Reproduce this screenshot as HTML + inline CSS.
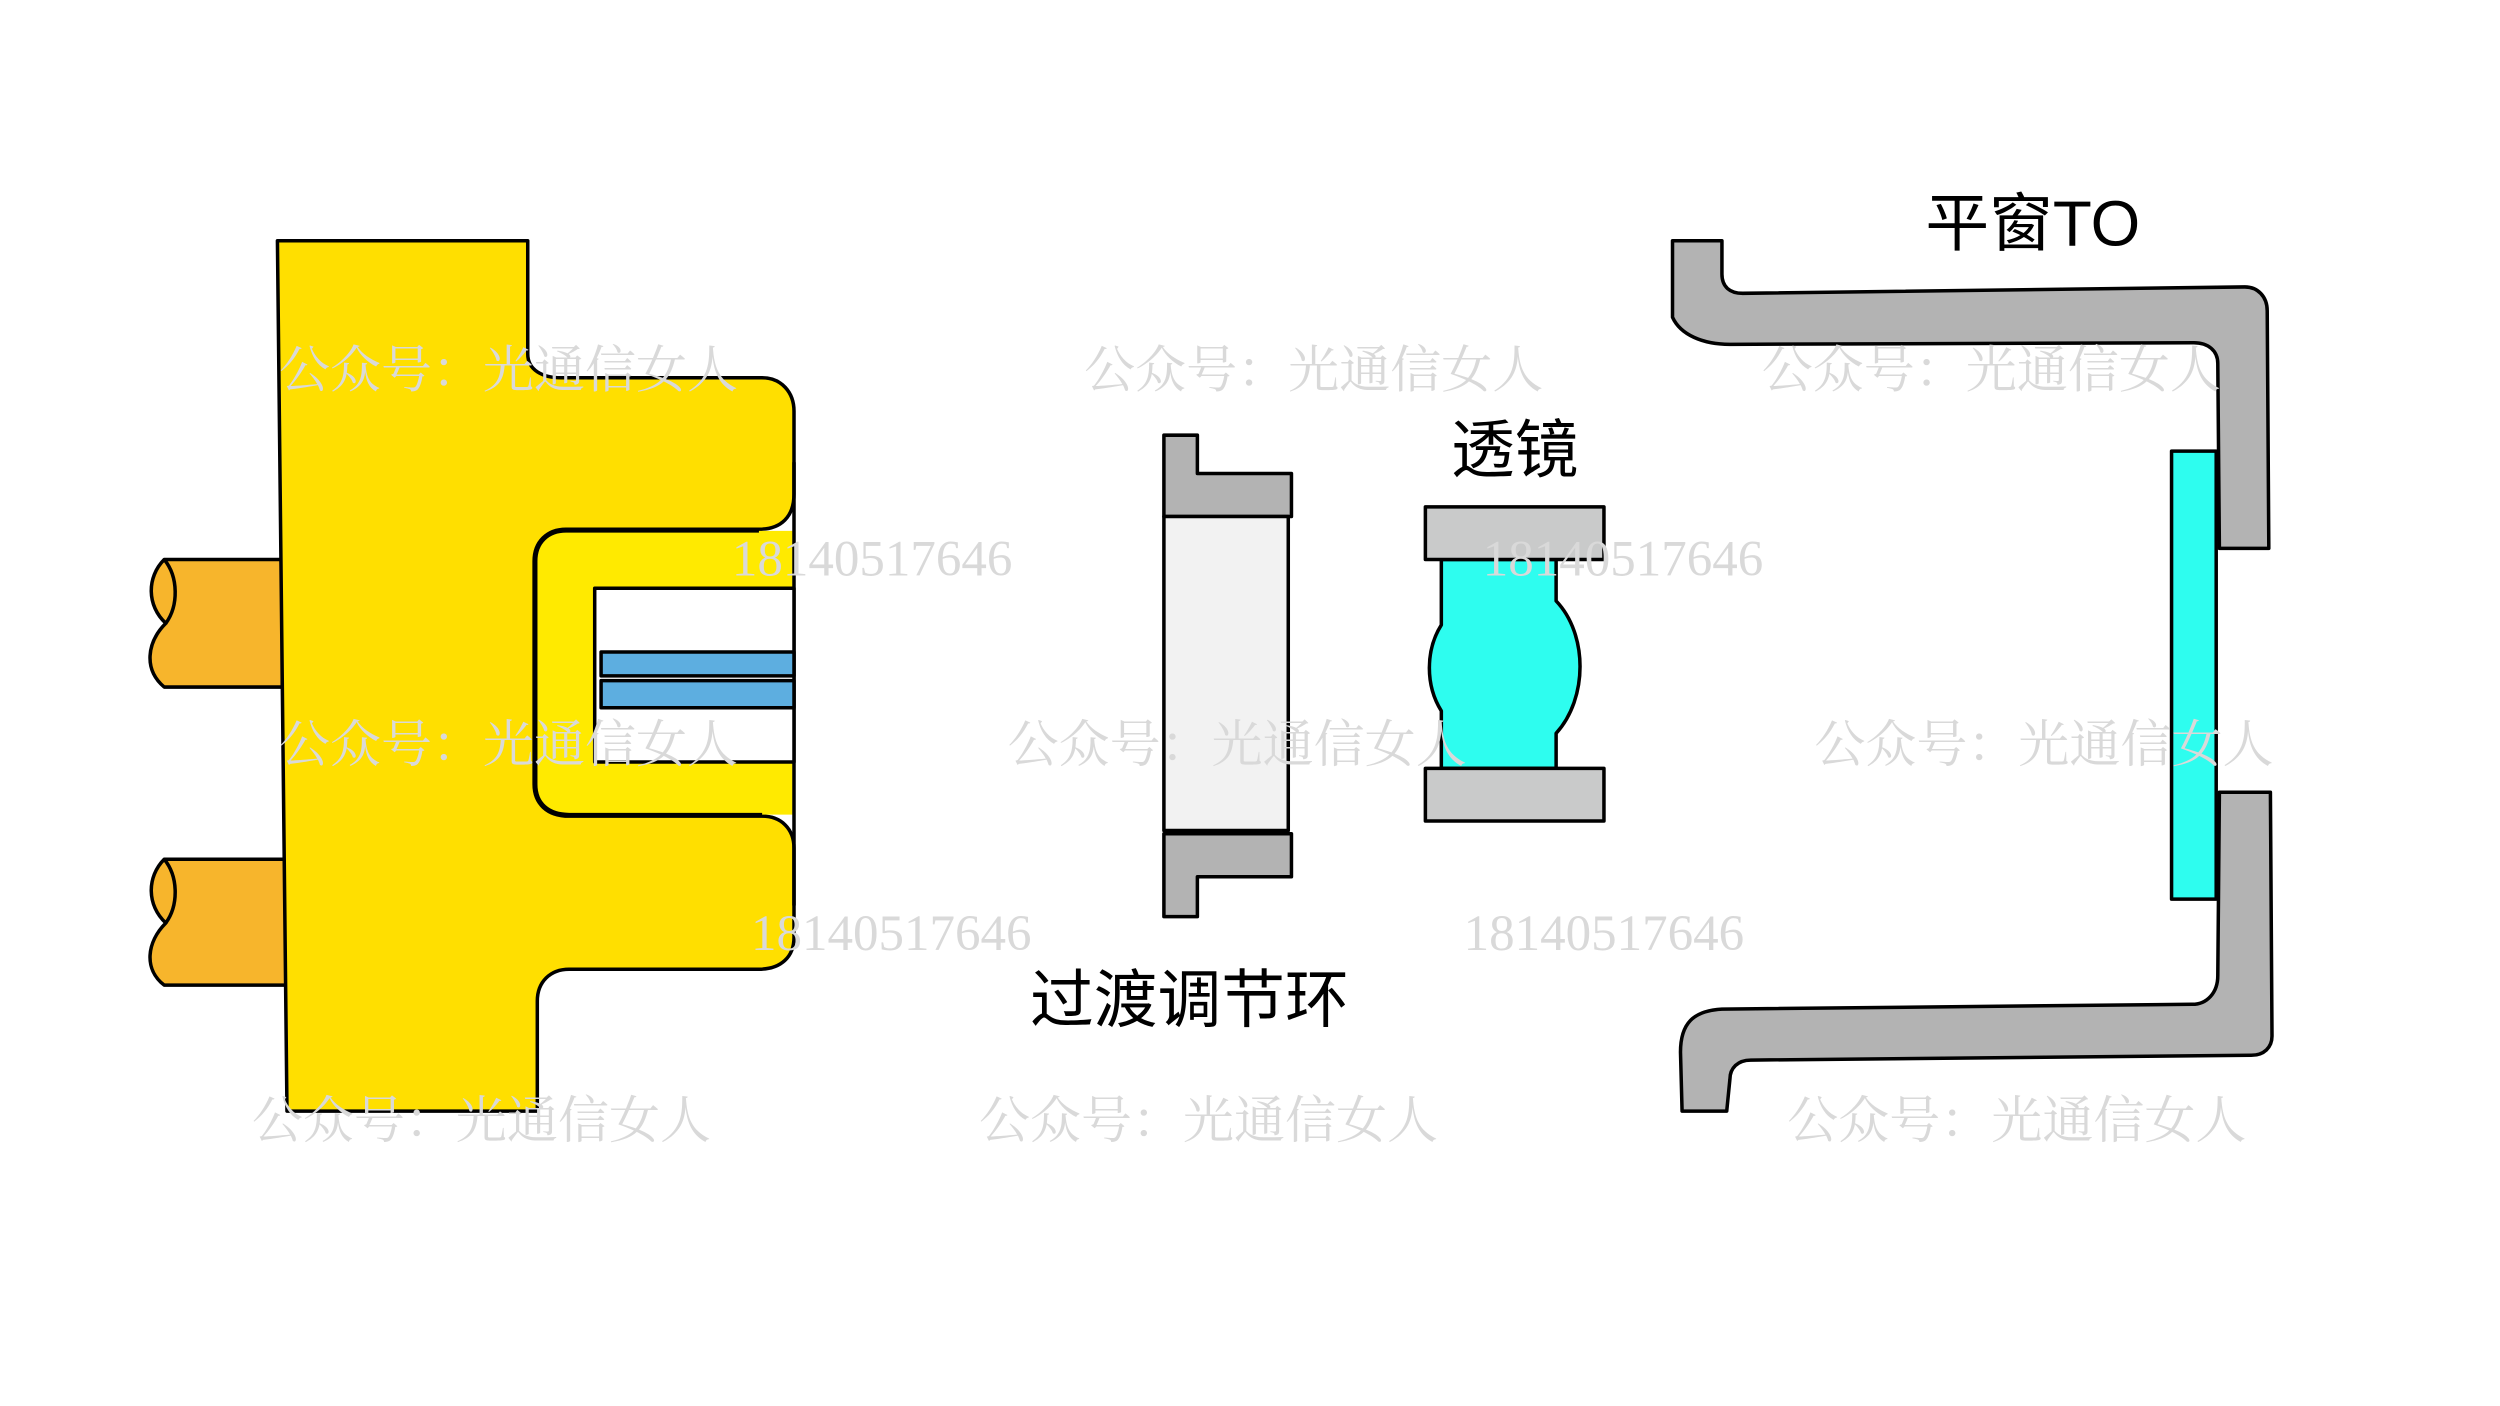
<!DOCTYPE html>
<html><head><meta charset="utf-8"><style>
html,body{margin:0;padding:0;background:#fff;}
svg{display:block;}
.wm{font-family:"Liberation Serif","Noto Serif CJK SC",serif;fill:#d9d9d9;font-size:32px;}
.lb{font-family:"Liberation Sans","Noto Sans CJK SC",sans-serif;fill:#000;font-size:40px;}
</style></head><body>
<svg width="2500" height="1406" viewBox="0 0 1568 882" preserveAspectRatio="none" xmlns="http://www.w3.org/2000/svg">
<g stroke="#000" stroke-width="2.2" stroke-linejoin="round">
<path d="M177,351 L103,351 C92,362 92,380 104,391 C92,403 90,420 103,431 L177,431 Z" fill="#F7B52C"/>
<path d="M103,351 C112,362 112,380 104,391" fill="none"/>
<path d="M180,539 L103,539 C92,550 92,568 104,579 C92,591 90,608 103,618 L180,618 Z" fill="#F7B52C"/>
<path d="M103,539 C112,550 112,568 104,579" fill="none"/>
<path d="M174,151 L331,151 L331,222 C331,232 340,237 352,237 L478,237 C490,237 498,246 498,258 L498,310 C498,324 490,332 476,332 L355,332 C343,332 335,340 335,352 L335,492 C335,504 343,512 357,512 L478,512 C490,512 498,520 498,532 L498,588 C498,600 490,608 476,608 L357,608 C345,608 337,616 337,628 L337,697 L180,697 Z" fill="#FFDF00"/>
<path d="M355,333 L497,333 L497,511 L357,511 C344,511 336,503 336,492 L336,352 C336,340 344,333 355,333 Z" fill="#FFEA00" stroke="none"/>
<path d="M336,352 C336,340 344,333 355,333 L476,333 M336,352 L336,492 C336,504 344,511 357,511 L478,511" fill="none"/>
<line x1="498" y1="290" x2="498" y2="568"/>
<rect x="373" y="369" width="125" height="109" fill="#fff"/>
<rect x="377" y="409" width="121" height="15" fill="#5DAEE0"/>
<rect x="377" y="427" width="121" height="17" fill="#5DAEE0"/>
<path d="M730,273 L751,273 L751,297 L810,297 L810,324 L730,324 Z" fill="#B3B3B3"/>
<rect x="730" y="324" width="78" height="197" fill="#F2F2F2"/>
<path d="M730,523 L810,523 L810,550 L751,550 L751,575 L730,575 Z" fill="#B3B3B3"/>
<path d="M904,351 L976,351 L976,377 C996,398 996,438 976,460 L976,482 L904,482 L904,446 C894,430 894,408 904,392 Z" fill="#2EFDEF"/>
<rect x="894" y="318" width="112" height="33" fill="#C9CACA"/>
<rect x="894" y="482" width="112" height="33" fill="#C9CACA"/>
<rect x="1362" y="283" width="28" height="281" fill="#2EFDEF"/>
<path d="M1049,151 L1080,151 L1080,172 C1080,180 1085,184 1093,184 L1408,180 C1416,180 1422,186 1422,195 L1423,344 L1392,344 L1391,228 C1391,220 1385,215 1376,215 L1085,216 C1068,216 1054,210 1049,199 Z" fill="#B3B3B3"/>
<path d="M1392,497 L1424,497 L1425,650 C1425,657 1420,662 1412,662 L1098,665 C1090,665 1085,670 1085,677 L1083,697 L1055,697 L1054,660 C1054,642 1062,634 1080,633 L1375,630 C1384,630 1391,623 1391,612 Z" fill="#B3B3B3"/>
</g>
<text class="lb" x="950" y="296" text-anchor="middle">透镜</text>
<text class="lb" x="746" y="641" text-anchor="middle">过渡调节环</text>
<text class="lb" x="1275" y="154" text-anchor="middle">平窗TO</text>
<g class="wm">
<text x="175" y="243">公众号：光通信女人</text>
<text x="680" y="243">公众号：光通信女人</text>
<text x="1105" y="243">公众号：光通信女人</text>
<text x="175" y="478">公众号：光通信女人</text>
<text x="632" y="478">公众号：光通信女人</text>
<text x="1138" y="478">公众号：光通信女人</text>
<text x="158" y="714">公众号：光通信女人</text>
<text x="614" y="714">公众号：光通信女人</text>
<text x="1121" y="714">公众号：光通信女人</text>
<text x="459" y="361">18140517646</text>
<text x="930" y="361">18140517646</text>
<text x="471" y="596">18140517646</text>
<text x="918" y="596">18140517646</text>
</g>
</svg>
</body></html>
